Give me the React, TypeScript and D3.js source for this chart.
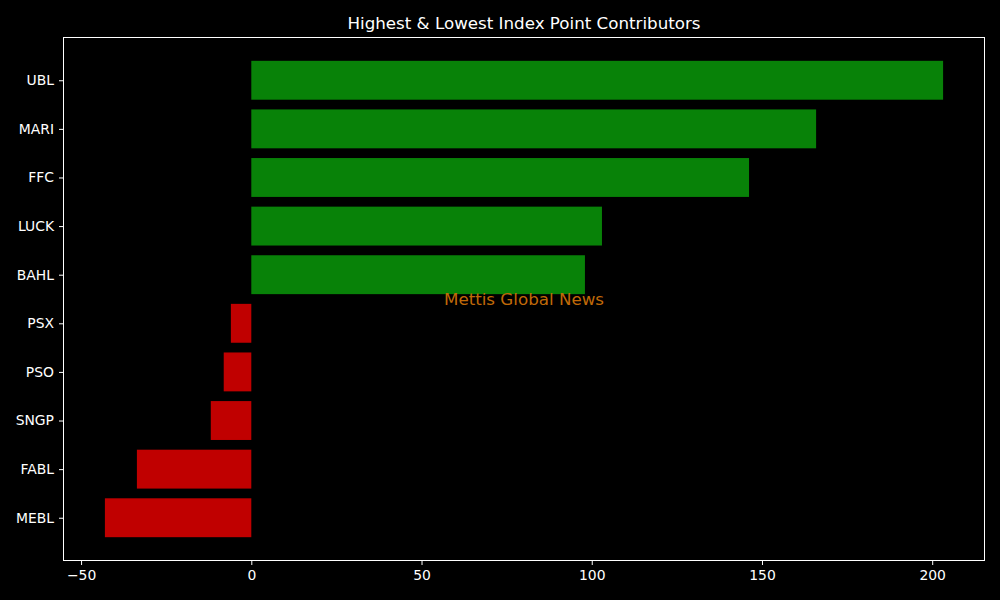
import { useEffect, useMemo, useRef } from "react";
import * as d3 from "d3";

const WIDTH = 1000;
const HEIGHT = 600;
const MARGIN = { top: 37, right: 15, bottom: 39, left: 63 };

const TITLE = "Highest & Lowest Index Point Contributors";
const WATERMARK = "Mettis Global News";

const symbols = ["UBL", "MARI", "FFC", "LUCK", "BAHL", "PSX", "PSO", "SNGP", "FABL", "MEBL"];
const points = [203.2, 165.9, 146.2, 103.0, 98.0, -6.0, -8.1, -11.9, -33.6, -43.0];
const xTicks = [-50, 0, 50, 100, 150, 200];

const POS_COLOR = "#088208";
const NEG_COLOR = "#c00000";

export default function App() {
  const axesRef = useRef<SVGGElement>(null);
  const boundsWidth = WIDTH - MARGIN.left - MARGIN.right;
  const boundsHeight = HEIGHT - MARGIN.top - MARGIN.bottom;

  // matplotlib-style 5% margins around data
  const xScale = useMemo(() => {
    const min = Math.min(0, d3.min(points) as number);
    const max = Math.max(0, d3.max(points) as number);
    const pad = (max - min) * 0.05;
    return d3.scaleLinear().domain([min - pad, max + pad]).range([0, boundsWidth]);
  }, [boundsWidth]);

  // categories at integer positions, bars 0.8 tall
  const yScale = useMemo(() => {
    const lo = -0.4;
    const hi = symbols.length - 1 + 0.4;
    const pad = (hi - lo) * 0.05;
    return d3.scaleLinear().domain([lo - pad, hi + pad]).range([0, boundsHeight]);
  }, [boundsHeight]);

  useEffect(() => {
    const g = d3.select(axesRef.current);
    g.selectAll("*").remove();

    const xAxis = g
      .append("g")
      .attr("transform", `translate(0,${boundsHeight})`)
      .call(
        d3
          .axisBottom(xScale)
          .tickValues(xTicks)
          .tickSize(4)
          .tickPadding(5)
          .tickFormat((d) => String(d).replace("-", "\u2212"))
      );
    const yAxis = g
      .append("g")
      .call(
        d3
          .axisLeft(yScale)
          .tickValues(symbols.map((_, i) => i))
          .tickSize(4)
          .tickPadding(5)
          .tickFormat((d) => symbols[d as number])
      );

    [xAxis, yAxis].forEach((ax) => {
      ax.select(".domain").remove();
      ax.selectAll("line").attr("stroke", "#fff");
      ax.selectAll("text")
        .attr("fill", "#fff")
        .attr("font-family", "DejaVu Sans")
        .attr("font-size", 13.9);
    });
  }, [xScale, yScale, boundsHeight]);

  const bars = points.map((v, i) => {
    const y0 = yScale(i - 0.4);
    const y1 = yScale(i + 0.4);
    const x0 = xScale(Math.min(0, v));
    const x1 = xScale(Math.max(0, v));
    return (
      <rect
        key={symbols[i]}
        x={x0}
        y={y0}
        width={x1 - x0}
        height={y1 - y0}
        fill={v >= 0 ? POS_COLOR : NEG_COLOR}
      />
    );
  });

  return (
    <svg
      width={WIDTH}
      height={HEIGHT}
      style={{ position: "absolute", left: 0, top: 0, background: "#000" }}
    >
      <rect x={0} y={0} width={WIDTH} height={HEIGHT} fill="#000" />
      <text
        x={MARGIN.left + boundsWidth / 2}
        y={29}
        textAnchor="middle"
        fill="#fff"
        fontFamily="DejaVu Sans"
        fontSize={16.7}
      >
        {TITLE}
      </text>
      <g transform={`translate(${MARGIN.left},${MARGIN.top})`}>
        {bars}
        <text
          x={boundsWidth / 2}
          y={boundsHeight / 2 + 6}
          textAnchor="middle"
          fill="#c06a08"
          fontFamily="DejaVu Sans"
          fontSize={16.7}
        >
          {WATERMARK}
        </text>
        <rect
          x={0.5}
          y={0.5}
          width={boundsWidth - 1}
          height={boundsHeight - 1}
          fill="none"
          stroke="#fff"
          strokeWidth={1}
        />
      </g>
      <g ref={axesRef} transform={`translate(${MARGIN.left},${MARGIN.top})`} />
    </svg>
  );
}
